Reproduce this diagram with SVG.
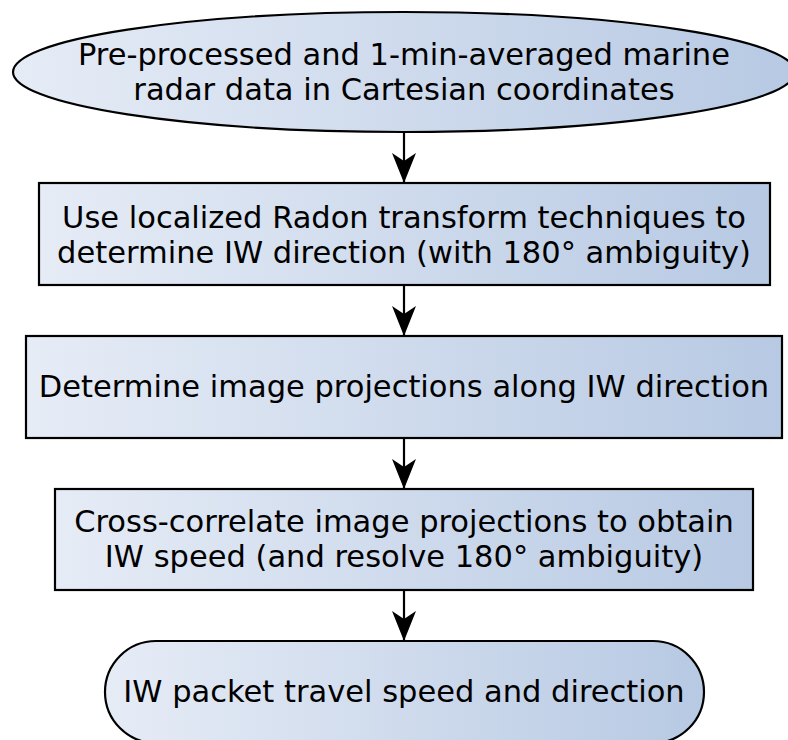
<svg xmlns="http://www.w3.org/2000/svg" width="788" height="740" viewBox="0 0 788 740">
<defs>
<linearGradient id="g" x1="0" y1="0" x2="1" y2="0">
<stop offset="0" stop-color="#e6ecf6"/>
<stop offset="1" stop-color="#b7c9e3"/>
</linearGradient>
<marker id="ah" viewBox="0 0 30 24" refX="30" refY="12" markerWidth="30" markerHeight="24" markerUnits="userSpaceOnUse" orient="auto">
<path d="M0,0 L30,12 L0,24 L8,12 Z" fill="#000"/>
</marker>
<style>
.n{fill:url(#g);stroke:#000;stroke-width:2.2}
text{font-family:"DejaVu Sans",sans-serif;font-size:30.5px;fill:#000;text-anchor:middle}
.c{stroke:#000;stroke-width:2.2;fill:none;marker-end:url(#ah)}
</style>
</defs>
<g id="connectors">
<line class="c" x1="404" y1="132" x2="404" y2="183"/>
<line class="c" x1="404" y1="285" x2="404" y2="336"/>
<line class="c" x1="404" y1="438" x2="404" y2="489"/>
<line class="c" x1="404" y1="590" x2="404" y2="641"/>
</g>
<g id="start">
<ellipse class="n" cx="404" cy="72" rx="391" ry="60"/>
<text x="404" y="65">Pre-processed and 1-min-averaged marine</text>
<text x="404" y="100">radar data in Cartesian coordinates</text>
</g>
<g id="radon">
<rect class="n" x="39" y="183" width="731" height="102"/>
<text x="404" y="228">Use localized Radon transform techniques to</text>
<text x="404" y="263">determine IW direction (with 180° ambiguity)</text>
</g>
<g id="projections">
<rect class="n" x="26" y="336" width="756" height="102"/>
<text x="404" y="397">Determine image projections along IW direction</text>
</g>
<g id="crosscorr">
<rect class="n" x="55" y="489" width="698" height="101"/>
<text x="404" y="532">Cross-correlate image projections to obtain</text>
<text x="404" y="567">IW speed (and resolve 180° ambiguity)</text>
</g>
<g id="end">
<rect class="n" x="105" y="641" width="599" height="102" rx="51" ry="51"/>
<text x="404" y="702">IW packet travel speed and direction</text>
</g>
</svg>
